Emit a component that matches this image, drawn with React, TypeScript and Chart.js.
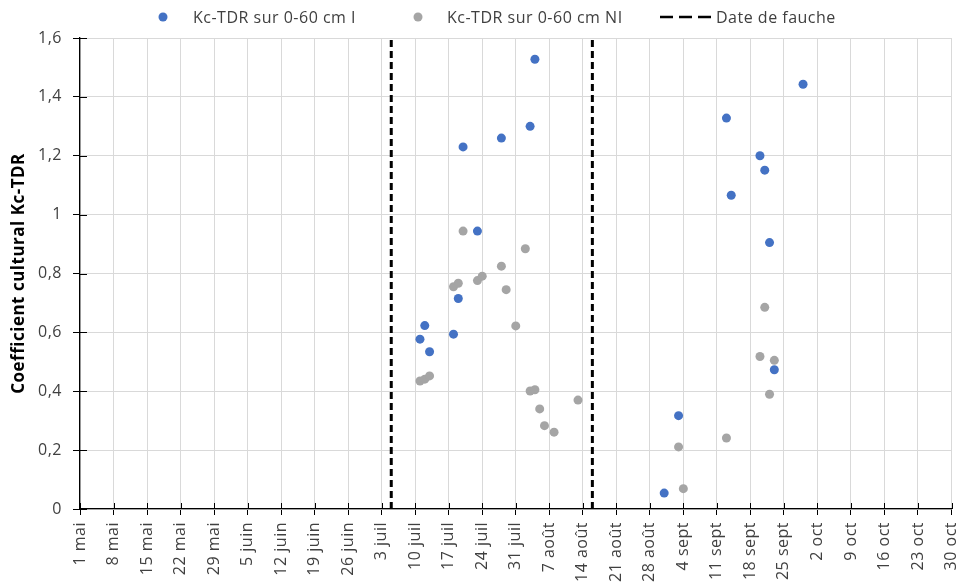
import React, { useEffect, useRef } from "react";
import { Chart, registerables } from "chart.js";

Chart.register(...registerables);

// Days counted from 1 mai (day 0)
const MONTH_NAMES = ["mai", "juin", "juil", "août", "sept", "oct"];
const MONTH_START_DAYS = [0, 31, 61, 92, 123, 153];
const X_MIN = 0;
const X_MAX = 182;
const X_STEP = 7;
const Y_MIN = 0;
const Y_MAX = 1.6;
const Y_STEP = 0.2;

const irrigatedDays = [71, 72, 73, 78, 79, 80, 83, 88, 94, 95, 122, 125, 135, 136, 142, 143, 144, 145, 151];
const irrigatedKc = [0.577, 0.623, 0.534, 0.594, 0.715, 1.23, 0.944, 1.26, 1.3, 1.528, 0.054, 0.317, 1.328, 1.066, 1.2, 1.151, 0.905, 0.473, 1.443];

const nonIrrigatedDays = [71, 72, 73, 78, 79, 80, 83, 84, 88, 89, 91, 93, 94, 95, 96, 97, 99, 104, 125, 126, 135, 142, 143, 144, 145];
const nonIrrigatedKc = [0.435, 0.441, 0.452, 0.755, 0.767, 0.944, 0.776, 0.791, 0.825, 0.745, 0.622, 0.884, 0.401, 0.405, 0.34, 0.283, 0.261, 0.37, 0.211, 0.069, 0.241, 0.518, 0.685, 0.39, 0.505];

const mowingDays = [65, 107];

const SERIES_LABELS = ["Kc-TDR sur 0-60 cm I", "Kc-TDR sur 0-60 cm NI", "Date de fauche"];
const Y_TITLE = "Coefficient cultural Kc-TDR";

const BLUE = "#4472C4";
const GREY = "#A5A5A5";
const TEXT = "#404040";
const FONT = "'Open Sans', sans-serif";
const LETTER_SPACING = "0.5px";

function dayLabel(d: number): string {
  let i = 0;
  for (let k = 0; k < MONTH_START_DAYS.length; k++) if (d >= MONTH_START_DAYS[k]) i = k;
  return `${Math.round(d - MONTH_START_DAYS[i] + 1)} ${MONTH_NAMES[i]}`;
}

function yLabel(v: number): string {
  const r = Math.round(v * 10) / 10;
  return String(r).replace(".", ",");
}

const spacingPlugin = {
  id: "letterSpacing",
  beforeUpdate(chart: any) {
    chart.ctx.letterSpacing = LETTER_SPACING;
  },
  beforeLayout(chart: any) {
    chart.ctx.letterSpacing = LETTER_SPACING;
  },
  beforeDraw(chart: any) {
    chart.ctx.letterSpacing = LETTER_SPACING;
  },
};

// legend layout: [marker x, text x]
const LEGEND_Y = 17;
const LEGEND_POS = [
  [163, 193],
  [418, 447],
  [660, 716],
];

const legendPlugin = {
  id: "customLegend",
  afterDraw(chart: any) {
    const ctx = chart.ctx;
    ctx.save();
    ctx.letterSpacing = LETTER_SPACING;
    ctx.font = `16px ${FONT}`;
    ctx.textBaseline = "middle";
    const y = LEGEND_Y;
    const colors = [BLUE, GREY];
    for (let i = 0; i < 2; i++) {
      ctx.beginPath();
      ctx.fillStyle = colors[i];
      ctx.arc(LEGEND_POS[i][0], y, 4.5, 0, Math.PI * 2);
      ctx.fill();
      ctx.fillStyle = TEXT;
      ctx.fillText(SERIES_LABELS[i], LEGEND_POS[i][1], y + 1);
    }
    ctx.beginPath();
    ctx.strokeStyle = "#000";
    ctx.lineWidth = 2.5;
    ctx.setLineDash([13, 6]);
    ctx.moveTo(LEGEND_POS[2][0], y);
    ctx.lineTo(LEGEND_POS[2][1] - 4, y);
    ctx.stroke();
    ctx.setLineDash([]);
    ctx.fillStyle = TEXT;
    ctx.fillText(SERIES_LABELS[2], LEGEND_POS[2][1], y + 1);
    ctx.restore();
  },
};

const crossTicksPlugin = {
  id: "crossTicks",
  afterDraw(chart: any) {
    const { ctx, scales } = chart;
    const xs = scales.x;
    const ys = scales.y;
    ctx.save();
    ctx.strokeStyle = "#000";
    ctx.lineWidth = 1;
    ys.ticks.forEach((t: any) => {
      const py = Math.round(ys.getPixelForValue(t.value)) + 0.5;
      ctx.beginPath();
      ctx.moveTo(ys.right, py);
      ctx.lineTo(ys.right + 7, py);
      ctx.stroke();
    });
    xs.ticks.forEach((t: any) => {
      const px = Math.round(xs.getPixelForValue(t.value)) + 0.5;
      ctx.beginPath();
      ctx.moveTo(px, xs.top);
      ctx.lineTo(px, xs.top - 6);
      ctx.stroke();
    });
    ctx.restore();
  },
};

export default function App() {
  const canvasRef = useRef<HTMLCanvasElement | null>(null);

  useEffect(() => {
    if (!canvasRef.current) return;
    Chart.defaults.font.family = FONT;
    const mowingData: any[] = [];
    mowingDays.forEach((d, i) => {
      if (i > 0) mowingData.push({ x: (mowingDays[i - 1] + d) / 2, y: null });
      mowingData.push({ x: d, y: Y_MIN });
      mowingData.push({ x: d, y: Y_MAX });
    });

    const chart = new Chart(canvasRef.current, {
      type: "scatter",
      data: {
        datasets: [
          {
            label: SERIES_LABELS[0],
            data: irrigatedDays.map((d, i) => ({ x: d, y: irrigatedKc[i] })),
            backgroundColor: BLUE,
            borderColor: BLUE,
            borderWidth: 0,
            pointRadius: 4.5,
            pointHoverRadius: 4.5,
          },
          {
            label: SERIES_LABELS[1],
            data: nonIrrigatedDays.map((d, i) => ({ x: d, y: nonIrrigatedKc[i] })),
            backgroundColor: GREY,
            borderColor: GREY,
            borderWidth: 0,
            pointRadius: 4.5,
            pointHoverRadius: 4.5,
          },
          {
            label: SERIES_LABELS[2],
            data: mowingData,
            showLine: true,
            spanGaps: false,
            borderColor: "#000",
            borderWidth: 3,
            borderDash: [7, 4],
            pointRadius: 0,
            pointHoverRadius: 0,
            clip: false,
          } as any,
        ],
      },
      options: {
        animation: false,
        responsive: true,
        maintainAspectRatio: false,
        layout: { padding: { top: 38, right: 3, left: 0, bottom: 0 } },
        plugins: {
          legend: { display: false },
          tooltip: { enabled: false },
        },
        scales: {
          x: {
            type: "linear",
            min: X_MIN,
            max: X_MAX,
            ticks: {
              stepSize: X_STEP,
              autoSkip: false,
              maxRotation: 90,
              minRotation: 90,
              padding: 7,
              color: TEXT,
              font: { size: 16, family: FONT },
              callback: (v: any) => dayLabel(Number(v)),
            },
            grid: {
              color: "#d9d9d9",
              tickColor: "#000",
              tickLength: 6,
              lineWidth: 1,
            },
            border: { display: true, color: "#000", width: 1.3 },
            afterFit: (scale: any) => {
              scale.height = 75;
              scale.paddingLeft = 0;
              scale.paddingRight = 0;
            },
          },
          y: {
            type: "linear",
            min: Y_MIN,
            max: Y_MAX,
            ticks: {
              stepSize: Y_STEP,
              padding: 11,
              color: TEXT,
              font: { size: 16, family: FONT },
              callback: (v: any) => yLabel(Number(v)),
            },
            grid: {
              color: "#d9d9d9",
              tickColor: "#000",
              tickLength: 7,
              lineWidth: 1,
            },
            border: { display: true, color: "#000", width: 1.3 },
            title: {
              display: true,
              text: Y_TITLE,
              color: "#000",
              font: { size: 17, weight: "bold", family: FONT },
              padding: { top: 9.3, bottom: 0 },
            },
            afterFit: (scale: any) => {
              scale.width = 80;
            },
          },
        },
      },
      plugins: [spacingPlugin, legendPlugin, crossTicksPlugin],
    } as any);

    return () => chart.destroy();
  }, []);

  return (
    <div style={{ position: "absolute", left: 0, top: 0, width: 956, height: 584, background: "#fff" }}>
      <canvas ref={canvasRef} />
    </div>
  );
}
